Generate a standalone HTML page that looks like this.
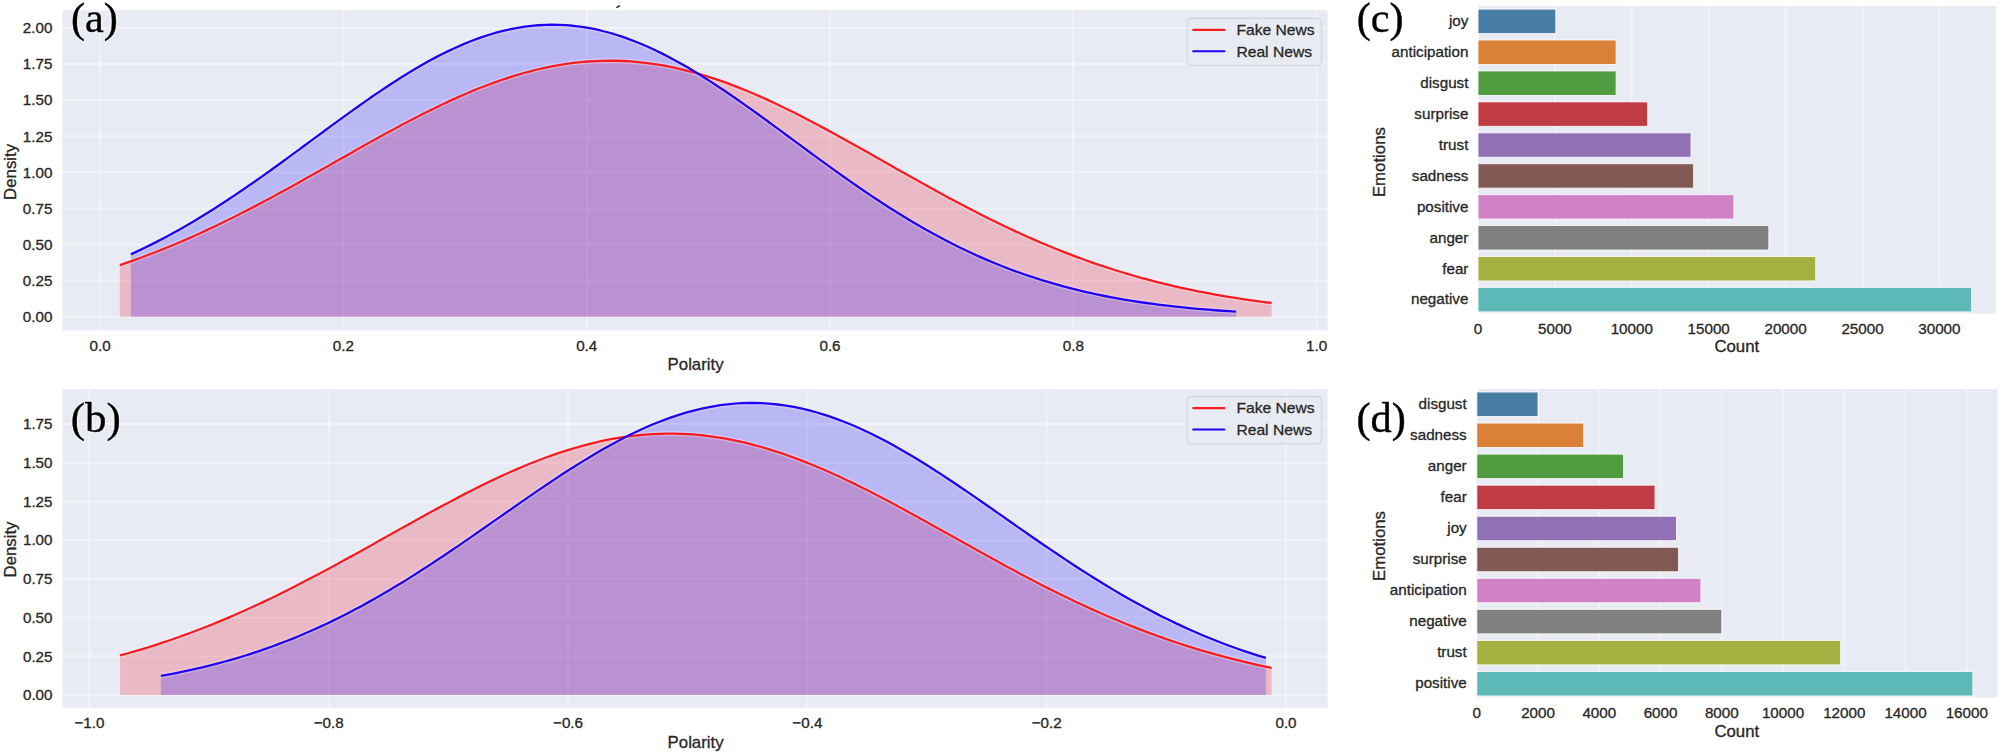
<!DOCTYPE html>
<html lang="en"><head><meta charset="utf-8"><title>Polarity density and emotion counts</title>
<style>html,body{margin:0;padding:0;background:#fff;}body{width:2001px;height:754px;overflow:hidden;}svg{display:block;}svg text{stroke-linejoin:round;}</style>
</head><body>
<svg width="2001" height="754" viewBox="0 0 2001 754" font-family='"Liberation Sans", Arial, Helvetica, sans-serif'>
<rect width="2001" height="754" fill="#fff"/>
<rect x="62.4" y="10.3" width="1265.1999999999998" height="320.0" fill="#e8ebf3"/>
<line x1="100.10" y1="10.3" x2="100.10" y2="330.3" stroke="#fff" stroke-width="2" stroke-opacity="0.42"/>
<text x="100.10" y="350.60" text-anchor="middle" font-size="15.2" fill="#262626" stroke="#262626" stroke-width="0.3">0.0</text>
<line x1="343.40" y1="10.3" x2="343.40" y2="330.3" stroke="#fff" stroke-width="2" stroke-opacity="0.42"/>
<text x="343.40" y="350.60" text-anchor="middle" font-size="15.2" fill="#262626" stroke="#262626" stroke-width="0.3">0.2</text>
<line x1="586.70" y1="10.3" x2="586.70" y2="330.3" stroke="#fff" stroke-width="2" stroke-opacity="0.42"/>
<text x="586.70" y="350.60" text-anchor="middle" font-size="15.2" fill="#262626" stroke="#262626" stroke-width="0.3">0.4</text>
<line x1="830.00" y1="10.3" x2="830.00" y2="330.3" stroke="#fff" stroke-width="2" stroke-opacity="0.42"/>
<text x="830.00" y="350.60" text-anchor="middle" font-size="15.2" fill="#262626" stroke="#262626" stroke-width="0.3">0.6</text>
<line x1="1073.30" y1="10.3" x2="1073.30" y2="330.3" stroke="#fff" stroke-width="2" stroke-opacity="0.42"/>
<text x="1073.30" y="350.60" text-anchor="middle" font-size="15.2" fill="#262626" stroke="#262626" stroke-width="0.3">0.8</text>
<line x1="1316.60" y1="10.3" x2="1316.60" y2="330.3" stroke="#fff" stroke-width="2" stroke-opacity="0.42"/>
<text x="1316.60" y="350.60" text-anchor="middle" font-size="15.2" fill="#262626" stroke="#262626" stroke-width="0.3">1.0</text>
<line x1="62.4" y1="316.70" x2="1327.6" y2="316.70" stroke="#fff" stroke-width="2" stroke-opacity="0.42"/>
<text x="52.40" y="322.00" text-anchor="end" font-size="15.2" fill="#262626" stroke="#262626" stroke-width="0.3">0.00</text>
<line x1="62.4" y1="280.60" x2="1327.6" y2="280.60" stroke="#fff" stroke-width="2" stroke-opacity="0.42"/>
<text x="52.40" y="285.90" text-anchor="end" font-size="15.2" fill="#262626" stroke="#262626" stroke-width="0.3">0.25</text>
<line x1="62.4" y1="244.50" x2="1327.6" y2="244.50" stroke="#fff" stroke-width="2" stroke-opacity="0.42"/>
<text x="52.40" y="249.80" text-anchor="end" font-size="15.2" fill="#262626" stroke="#262626" stroke-width="0.3">0.50</text>
<line x1="62.4" y1="208.40" x2="1327.6" y2="208.40" stroke="#fff" stroke-width="2" stroke-opacity="0.42"/>
<text x="52.40" y="213.70" text-anchor="end" font-size="15.2" fill="#262626" stroke="#262626" stroke-width="0.3">0.75</text>
<line x1="62.4" y1="172.30" x2="1327.6" y2="172.30" stroke="#fff" stroke-width="2" stroke-opacity="0.42"/>
<text x="52.40" y="177.60" text-anchor="end" font-size="15.2" fill="#262626" stroke="#262626" stroke-width="0.3">1.00</text>
<line x1="62.4" y1="136.20" x2="1327.6" y2="136.20" stroke="#fff" stroke-width="2" stroke-opacity="0.42"/>
<text x="52.40" y="141.50" text-anchor="end" font-size="15.2" fill="#262626" stroke="#262626" stroke-width="0.3">1.25</text>
<line x1="62.4" y1="100.10" x2="1327.6" y2="100.10" stroke="#fff" stroke-width="2" stroke-opacity="0.42"/>
<text x="52.40" y="105.40" text-anchor="end" font-size="15.2" fill="#262626" stroke="#262626" stroke-width="0.3">1.50</text>
<line x1="62.4" y1="64.00" x2="1327.6" y2="64.00" stroke="#fff" stroke-width="2" stroke-opacity="0.42"/>
<text x="52.40" y="69.30" text-anchor="end" font-size="15.2" fill="#262626" stroke="#262626" stroke-width="0.3">1.75</text>
<line x1="62.4" y1="27.90" x2="1327.6" y2="27.90" stroke="#fff" stroke-width="2" stroke-opacity="0.42"/>
<text x="52.40" y="33.20" text-anchor="end" font-size="15.2" fill="#262626" stroke="#262626" stroke-width="0.3">2.00</text>
<path d="M119.81,265.13 L127.01,262.66 L134.20,260.12 L141.40,257.49 L148.60,254.79 L155.80,252.00 L163.00,249.14 L170.20,246.20 L177.40,243.19 L184.60,240.10 L191.79,236.93 L198.99,233.69 L206.19,230.38 L213.39,226.99 L220.59,223.54 L227.79,220.03 L234.99,216.45 L242.18,212.81 L249.38,209.11 L256.58,205.36 L263.78,201.55 L270.98,197.70 L278.18,193.81 L285.38,189.87 L292.57,185.90 L299.77,181.90 L306.97,177.87 L314.17,173.82 L321.37,169.76 L328.57,165.68 L335.77,161.60 L342.97,157.52 L350.16,153.44 L357.36,149.37 L364.56,145.32 L371.76,141.30 L378.96,137.30 L386.16,133.34 L393.36,129.42 L400.55,125.55 L407.75,121.74 L414.95,117.99 L422.15,114.30 L429.35,110.69 L436.55,107.16 L443.75,103.72 L450.94,100.36 L458.14,97.11 L465.34,93.97 L472.54,90.93 L479.74,88.01 L486.94,85.22 L494.14,82.55 L501.34,80.01 L508.53,77.62 L515.73,75.36 L522.93,73.26 L530.13,71.30 L537.33,69.50 L544.53,67.86 L551.73,66.38 L558.92,65.07 L566.12,63.92 L573.32,62.94 L580.52,62.14 L587.72,61.51 L594.92,61.06 L602.12,60.78 L609.31,60.68 L616.51,60.76 L623.71,61.01 L630.91,61.44 L638.11,62.04 L645.31,62.82 L652.51,63.77 L659.71,64.90 L666.90,66.19 L674.10,67.64 L681.30,69.26 L688.50,71.04 L695.70,72.98 L702.90,75.06 L710.10,77.30 L717.29,79.67 L724.49,82.19 L731.69,84.84 L738.89,87.62 L746.09,90.52 L753.29,93.54 L760.49,96.67 L767.68,99.91 L774.88,103.25 L782.08,106.68 L789.28,110.20 L796.48,113.80 L803.68,117.47 L810.88,121.22 L818.08,125.02 L825.27,128.88 L832.47,132.80 L839.67,136.75 L846.87,140.74 L854.07,144.76 L861.27,148.81 L868.47,152.87 L875.66,156.95 L882.86,161.03 L890.06,165.12 L897.26,169.19 L904.46,173.26 L911.66,177.31 L918.86,181.34 L926.05,185.35 L933.25,189.32 L940.45,193.26 L947.65,197.17 L954.85,201.02 L962.05,204.83 L969.25,208.59 L976.45,212.30 L983.64,215.95 L990.84,219.54 L998.04,223.06 L1005.24,226.52 L1012.44,229.91 L1019.64,233.23 L1026.84,236.48 L1034.03,239.66 L1041.23,242.76 L1048.43,245.79 L1055.63,248.74 L1062.83,251.61 L1070.03,254.41 L1077.23,257.12 L1084.42,259.76 L1091.62,262.31 L1098.82,264.79 L1106.02,267.19 L1113.22,269.51 L1120.42,271.76 L1127.62,273.92 L1134.82,276.01 L1142.01,278.03 L1149.21,279.97 L1156.41,281.84 L1163.61,283.63 L1170.81,285.35 L1178.01,287.01 L1185.21,288.60 L1192.40,290.12 L1199.60,291.57 L1206.80,292.97 L1214.00,294.30 L1221.20,295.57 L1228.40,296.78 L1235.60,297.94 L1242.79,299.04 L1249.99,300.08 L1257.19,301.08 L1264.39,302.03 L1271.59,302.93 L1271.59,316.70 L119.81,316.70 Z" fill="#eb0a28" fill-opacity="0.22" stroke="none"/>
<path d="M130.88,254.35 L137.78,251.14 L144.69,247.83 L151.60,244.40 L158.51,240.87 L165.41,237.24 L172.32,233.50 L179.23,229.65 L186.14,225.70 L193.04,221.65 L199.95,217.51 L206.86,213.26 L213.77,208.93 L220.67,204.51 L227.58,200.00 L234.49,195.41 L241.40,190.75 L248.30,186.01 L255.21,181.21 L262.12,176.35 L269.03,171.44 L275.93,166.47 L282.84,161.47 L289.75,156.43 L296.66,151.37 L303.56,146.29 L310.47,141.19 L317.38,136.10 L324.29,131.01 L331.19,125.93 L338.10,120.88 L345.01,115.86 L351.92,110.88 L358.82,105.96 L365.73,101.09 L372.64,96.30 L379.55,91.58 L386.45,86.95 L393.36,82.43 L400.27,78.01 L407.18,73.71 L414.08,69.54 L420.99,65.50 L427.90,61.61 L434.80,57.87 L441.71,54.30 L448.62,50.89 L455.53,47.67 L462.43,44.63 L469.34,41.79 L476.25,39.14 L483.16,36.70 L490.06,34.48 L496.97,32.47 L503.88,30.69 L510.79,29.13 L517.69,27.80 L524.60,26.71 L531.51,25.85 L538.42,25.24 L545.32,24.86 L552.23,24.72 L559.14,24.83 L566.05,25.18 L572.95,25.77 L579.86,26.60 L586.77,27.66 L593.68,28.96 L600.58,30.49 L607.49,32.25 L614.40,34.23 L621.31,36.43 L628.21,38.84 L635.12,41.46 L642.03,44.29 L648.94,47.30 L655.84,50.51 L662.75,53.89 L669.66,57.44 L676.57,61.16 L683.47,65.03 L690.38,69.05 L697.29,73.21 L704.19,77.50 L711.10,81.90 L718.01,86.42 L724.92,91.03 L731.82,95.74 L738.73,100.52 L745.64,105.38 L752.55,110.30 L759.45,115.27 L766.36,120.29 L773.27,125.34 L780.18,130.41 L787.08,135.50 L793.99,140.59 L800.90,145.69 L807.81,150.77 L814.71,155.84 L821.62,160.88 L828.53,165.89 L835.44,170.86 L842.34,175.78 L849.25,180.64 L856.16,185.45 L863.07,190.19 L869.97,194.87 L876.88,199.46 L883.79,203.98 L890.70,208.41 L897.60,212.76 L904.51,217.01 L911.42,221.17 L918.33,225.23 L925.23,229.19 L932.14,233.05 L939.05,236.80 L945.96,240.45 L952.86,243.99 L959.77,247.43 L966.68,250.76 L973.59,253.98 L980.49,257.09 L987.40,260.09 L994.31,262.99 L1001.21,265.78 L1008.12,268.47 L1015.03,271.05 L1021.94,273.53 L1028.84,275.91 L1035.75,278.19 L1042.66,280.37 L1049.57,282.46 L1056.47,284.45 L1063.38,286.36 L1070.29,288.17 L1077.20,289.90 L1084.10,291.54 L1091.01,293.11 L1097.92,294.59 L1104.83,296.00 L1111.73,297.33 L1118.64,298.60 L1125.55,299.79 L1132.46,300.92 L1139.36,301.99 L1146.27,302.99 L1153.18,303.94 L1160.09,304.83 L1166.99,305.67 L1173.90,306.46 L1180.81,307.20 L1187.72,307.89 L1194.62,308.54 L1201.53,309.15 L1208.44,309.71 L1215.35,310.24 L1222.25,310.74 L1229.16,311.20 L1236.07,311.63 L1236.07,316.70 L130.88,316.70 Z" fill="#2014fc" fill-opacity="0.235" stroke="none"/>
<path d="M119.81,265.13 L127.01,262.66 L134.20,260.12 L141.40,257.49 L148.60,254.79 L155.80,252.00 L163.00,249.14 L170.20,246.20 L177.40,243.19 L184.60,240.10 L191.79,236.93 L198.99,233.69 L206.19,230.38 L213.39,226.99 L220.59,223.54 L227.79,220.03 L234.99,216.45 L242.18,212.81 L249.38,209.11 L256.58,205.36 L263.78,201.55 L270.98,197.70 L278.18,193.81 L285.38,189.87 L292.57,185.90 L299.77,181.90 L306.97,177.87 L314.17,173.82 L321.37,169.76 L328.57,165.68 L335.77,161.60 L342.97,157.52 L350.16,153.44 L357.36,149.37 L364.56,145.32 L371.76,141.30 L378.96,137.30 L386.16,133.34 L393.36,129.42 L400.55,125.55 L407.75,121.74 L414.95,117.99 L422.15,114.30 L429.35,110.69 L436.55,107.16 L443.75,103.72 L450.94,100.36 L458.14,97.11 L465.34,93.97 L472.54,90.93 L479.74,88.01 L486.94,85.22 L494.14,82.55 L501.34,80.01 L508.53,77.62 L515.73,75.36 L522.93,73.26 L530.13,71.30 L537.33,69.50 L544.53,67.86 L551.73,66.38 L558.92,65.07 L566.12,63.92 L573.32,62.94 L580.52,62.14 L587.72,61.51 L594.92,61.06 L602.12,60.78 L609.31,60.68 L616.51,60.76 L623.71,61.01 L630.91,61.44 L638.11,62.04 L645.31,62.82 L652.51,63.77 L659.71,64.90 L666.90,66.19 L674.10,67.64 L681.30,69.26 L688.50,71.04 L695.70,72.98 L702.90,75.06 L710.10,77.30 L717.29,79.67 L724.49,82.19 L731.69,84.84 L738.89,87.62 L746.09,90.52 L753.29,93.54 L760.49,96.67 L767.68,99.91 L774.88,103.25 L782.08,106.68 L789.28,110.20 L796.48,113.80 L803.68,117.47 L810.88,121.22 L818.08,125.02 L825.27,128.88 L832.47,132.80 L839.67,136.75 L846.87,140.74 L854.07,144.76 L861.27,148.81 L868.47,152.87 L875.66,156.95 L882.86,161.03 L890.06,165.12 L897.26,169.19 L904.46,173.26 L911.66,177.31 L918.86,181.34 L926.05,185.35 L933.25,189.32 L940.45,193.26 L947.65,197.17 L954.85,201.02 L962.05,204.83 L969.25,208.59 L976.45,212.30 L983.64,215.95 L990.84,219.54 L998.04,223.06 L1005.24,226.52 L1012.44,229.91 L1019.64,233.23 L1026.84,236.48 L1034.03,239.66 L1041.23,242.76 L1048.43,245.79 L1055.63,248.74 L1062.83,251.61 L1070.03,254.41 L1077.23,257.12 L1084.42,259.76 L1091.62,262.31 L1098.82,264.79 L1106.02,267.19 L1113.22,269.51 L1120.42,271.76 L1127.62,273.92 L1134.82,276.01 L1142.01,278.03 L1149.21,279.97 L1156.41,281.84 L1163.61,283.63 L1170.81,285.35 L1178.01,287.01 L1185.21,288.60 L1192.40,290.12 L1199.60,291.57 L1206.80,292.97 L1214.00,294.30 L1221.20,295.57 L1228.40,296.78 L1235.60,297.94 L1242.79,299.04 L1249.99,300.08 L1257.19,301.08 L1264.39,302.03 L1271.59,302.93" fill="none" stroke="#fff" stroke-width="4.8" stroke-opacity="0.32" stroke-linejoin="round"/>
<path d="M130.88,254.35 L137.78,251.14 L144.69,247.83 L151.60,244.40 L158.51,240.87 L165.41,237.24 L172.32,233.50 L179.23,229.65 L186.14,225.70 L193.04,221.65 L199.95,217.51 L206.86,213.26 L213.77,208.93 L220.67,204.51 L227.58,200.00 L234.49,195.41 L241.40,190.75 L248.30,186.01 L255.21,181.21 L262.12,176.35 L269.03,171.44 L275.93,166.47 L282.84,161.47 L289.75,156.43 L296.66,151.37 L303.56,146.29 L310.47,141.19 L317.38,136.10 L324.29,131.01 L331.19,125.93 L338.10,120.88 L345.01,115.86 L351.92,110.88 L358.82,105.96 L365.73,101.09 L372.64,96.30 L379.55,91.58 L386.45,86.95 L393.36,82.43 L400.27,78.01 L407.18,73.71 L414.08,69.54 L420.99,65.50 L427.90,61.61 L434.80,57.87 L441.71,54.30 L448.62,50.89 L455.53,47.67 L462.43,44.63 L469.34,41.79 L476.25,39.14 L483.16,36.70 L490.06,34.48 L496.97,32.47 L503.88,30.69 L510.79,29.13 L517.69,27.80 L524.60,26.71 L531.51,25.85 L538.42,25.24 L545.32,24.86 L552.23,24.72 L559.14,24.83 L566.05,25.18 L572.95,25.77 L579.86,26.60 L586.77,27.66 L593.68,28.96 L600.58,30.49 L607.49,32.25 L614.40,34.23 L621.31,36.43 L628.21,38.84 L635.12,41.46 L642.03,44.29 L648.94,47.30 L655.84,50.51 L662.75,53.89 L669.66,57.44 L676.57,61.16 L683.47,65.03 L690.38,69.05 L697.29,73.21 L704.19,77.50 L711.10,81.90 L718.01,86.42 L724.92,91.03 L731.82,95.74 L738.73,100.52 L745.64,105.38 L752.55,110.30 L759.45,115.27 L766.36,120.29 L773.27,125.34 L780.18,130.41 L787.08,135.50 L793.99,140.59 L800.90,145.69 L807.81,150.77 L814.71,155.84 L821.62,160.88 L828.53,165.89 L835.44,170.86 L842.34,175.78 L849.25,180.64 L856.16,185.45 L863.07,190.19 L869.97,194.87 L876.88,199.46 L883.79,203.98 L890.70,208.41 L897.60,212.76 L904.51,217.01 L911.42,221.17 L918.33,225.23 L925.23,229.19 L932.14,233.05 L939.05,236.80 L945.96,240.45 L952.86,243.99 L959.77,247.43 L966.68,250.76 L973.59,253.98 L980.49,257.09 L987.40,260.09 L994.31,262.99 L1001.21,265.78 L1008.12,268.47 L1015.03,271.05 L1021.94,273.53 L1028.84,275.91 L1035.75,278.19 L1042.66,280.37 L1049.57,282.46 L1056.47,284.45 L1063.38,286.36 L1070.29,288.17 L1077.20,289.90 L1084.10,291.54 L1091.01,293.11 L1097.92,294.59 L1104.83,296.00 L1111.73,297.33 L1118.64,298.60 L1125.55,299.79 L1132.46,300.92 L1139.36,301.99 L1146.27,302.99 L1153.18,303.94 L1160.09,304.83 L1166.99,305.67 L1173.90,306.46 L1180.81,307.20 L1187.72,307.89 L1194.62,308.54 L1201.53,309.15 L1208.44,309.71 L1215.35,310.24 L1222.25,310.74 L1229.16,311.20 L1236.07,311.63" fill="none" stroke="#fff" stroke-width="4.8" stroke-opacity="0.32" stroke-linejoin="round"/>
<path d="M119.81,265.13 L127.01,262.66 L134.20,260.12 L141.40,257.49 L148.60,254.79 L155.80,252.00 L163.00,249.14 L170.20,246.20 L177.40,243.19 L184.60,240.10 L191.79,236.93 L198.99,233.69 L206.19,230.38 L213.39,226.99 L220.59,223.54 L227.79,220.03 L234.99,216.45 L242.18,212.81 L249.38,209.11 L256.58,205.36 L263.78,201.55 L270.98,197.70 L278.18,193.81 L285.38,189.87 L292.57,185.90 L299.77,181.90 L306.97,177.87 L314.17,173.82 L321.37,169.76 L328.57,165.68 L335.77,161.60 L342.97,157.52 L350.16,153.44 L357.36,149.37 L364.56,145.32 L371.76,141.30 L378.96,137.30 L386.16,133.34 L393.36,129.42 L400.55,125.55 L407.75,121.74 L414.95,117.99 L422.15,114.30 L429.35,110.69 L436.55,107.16 L443.75,103.72 L450.94,100.36 L458.14,97.11 L465.34,93.97 L472.54,90.93 L479.74,88.01 L486.94,85.22 L494.14,82.55 L501.34,80.01 L508.53,77.62 L515.73,75.36 L522.93,73.26 L530.13,71.30 L537.33,69.50 L544.53,67.86 L551.73,66.38 L558.92,65.07 L566.12,63.92 L573.32,62.94 L580.52,62.14 L587.72,61.51 L594.92,61.06 L602.12,60.78 L609.31,60.68 L616.51,60.76 L623.71,61.01 L630.91,61.44 L638.11,62.04 L645.31,62.82 L652.51,63.77 L659.71,64.90 L666.90,66.19 L674.10,67.64 L681.30,69.26 L688.50,71.04 L695.70,72.98 L702.90,75.06 L710.10,77.30 L717.29,79.67 L724.49,82.19 L731.69,84.84 L738.89,87.62 L746.09,90.52 L753.29,93.54 L760.49,96.67 L767.68,99.91 L774.88,103.25 L782.08,106.68 L789.28,110.20 L796.48,113.80 L803.68,117.47 L810.88,121.22 L818.08,125.02 L825.27,128.88 L832.47,132.80 L839.67,136.75 L846.87,140.74 L854.07,144.76 L861.27,148.81 L868.47,152.87 L875.66,156.95 L882.86,161.03 L890.06,165.12 L897.26,169.19 L904.46,173.26 L911.66,177.31 L918.86,181.34 L926.05,185.35 L933.25,189.32 L940.45,193.26 L947.65,197.17 L954.85,201.02 L962.05,204.83 L969.25,208.59 L976.45,212.30 L983.64,215.95 L990.84,219.54 L998.04,223.06 L1005.24,226.52 L1012.44,229.91 L1019.64,233.23 L1026.84,236.48 L1034.03,239.66 L1041.23,242.76 L1048.43,245.79 L1055.63,248.74 L1062.83,251.61 L1070.03,254.41 L1077.23,257.12 L1084.42,259.76 L1091.62,262.31 L1098.82,264.79 L1106.02,267.19 L1113.22,269.51 L1120.42,271.76 L1127.62,273.92 L1134.82,276.01 L1142.01,278.03 L1149.21,279.97 L1156.41,281.84 L1163.61,283.63 L1170.81,285.35 L1178.01,287.01 L1185.21,288.60 L1192.40,290.12 L1199.60,291.57 L1206.80,292.97 L1214.00,294.30 L1221.20,295.57 L1228.40,296.78 L1235.60,297.94 L1242.79,299.04 L1249.99,300.08 L1257.19,301.08 L1264.39,302.03 L1271.59,302.93" fill="none" stroke="#fb1c22" stroke-width="2.3" stroke-linejoin="round"/>
<path d="M130.88,254.35 L137.78,251.14 L144.69,247.83 L151.60,244.40 L158.51,240.87 L165.41,237.24 L172.32,233.50 L179.23,229.65 L186.14,225.70 L193.04,221.65 L199.95,217.51 L206.86,213.26 L213.77,208.93 L220.67,204.51 L227.58,200.00 L234.49,195.41 L241.40,190.75 L248.30,186.01 L255.21,181.21 L262.12,176.35 L269.03,171.44 L275.93,166.47 L282.84,161.47 L289.75,156.43 L296.66,151.37 L303.56,146.29 L310.47,141.19 L317.38,136.10 L324.29,131.01 L331.19,125.93 L338.10,120.88 L345.01,115.86 L351.92,110.88 L358.82,105.96 L365.73,101.09 L372.64,96.30 L379.55,91.58 L386.45,86.95 L393.36,82.43 L400.27,78.01 L407.18,73.71 L414.08,69.54 L420.99,65.50 L427.90,61.61 L434.80,57.87 L441.71,54.30 L448.62,50.89 L455.53,47.67 L462.43,44.63 L469.34,41.79 L476.25,39.14 L483.16,36.70 L490.06,34.48 L496.97,32.47 L503.88,30.69 L510.79,29.13 L517.69,27.80 L524.60,26.71 L531.51,25.85 L538.42,25.24 L545.32,24.86 L552.23,24.72 L559.14,24.83 L566.05,25.18 L572.95,25.77 L579.86,26.60 L586.77,27.66 L593.68,28.96 L600.58,30.49 L607.49,32.25 L614.40,34.23 L621.31,36.43 L628.21,38.84 L635.12,41.46 L642.03,44.29 L648.94,47.30 L655.84,50.51 L662.75,53.89 L669.66,57.44 L676.57,61.16 L683.47,65.03 L690.38,69.05 L697.29,73.21 L704.19,77.50 L711.10,81.90 L718.01,86.42 L724.92,91.03 L731.82,95.74 L738.73,100.52 L745.64,105.38 L752.55,110.30 L759.45,115.27 L766.36,120.29 L773.27,125.34 L780.18,130.41 L787.08,135.50 L793.99,140.59 L800.90,145.69 L807.81,150.77 L814.71,155.84 L821.62,160.88 L828.53,165.89 L835.44,170.86 L842.34,175.78 L849.25,180.64 L856.16,185.45 L863.07,190.19 L869.97,194.87 L876.88,199.46 L883.79,203.98 L890.70,208.41 L897.60,212.76 L904.51,217.01 L911.42,221.17 L918.33,225.23 L925.23,229.19 L932.14,233.05 L939.05,236.80 L945.96,240.45 L952.86,243.99 L959.77,247.43 L966.68,250.76 L973.59,253.98 L980.49,257.09 L987.40,260.09 L994.31,262.99 L1001.21,265.78 L1008.12,268.47 L1015.03,271.05 L1021.94,273.53 L1028.84,275.91 L1035.75,278.19 L1042.66,280.37 L1049.57,282.46 L1056.47,284.45 L1063.38,286.36 L1070.29,288.17 L1077.20,289.90 L1084.10,291.54 L1091.01,293.11 L1097.92,294.59 L1104.83,296.00 L1111.73,297.33 L1118.64,298.60 L1125.55,299.79 L1132.46,300.92 L1139.36,301.99 L1146.27,302.99 L1153.18,303.94 L1160.09,304.83 L1166.99,305.67 L1173.90,306.46 L1180.81,307.20 L1187.72,307.89 L1194.62,308.54 L1201.53,309.15 L1208.44,309.71 L1215.35,310.24 L1222.25,310.74 L1229.16,311.20 L1236.07,311.63" fill="none" stroke="#2200f8" stroke-width="2.3" stroke-linejoin="round"/>
<rect x="1187.2" y="18.4" width="134.29999999999995" height="47.1" rx="4" ry="4" fill="#e8ebf3" fill-opacity="0.8" stroke="#d3d3d9" stroke-width="1.1"/>
<line x1="1193.2" y1="29.9" x2="1224.4" y2="29.9" stroke="#fb1c22" stroke-width="2.1" stroke-linecap="round"/>
<line x1="1193.2" y1="51.3" x2="1224.4" y2="51.3" stroke="#2200f8" stroke-width="2.1" stroke-linecap="round"/>
<text transform="translate(1236.4,35.10) scale(1,0.94)" font-size="15.65" fill="#262626" stroke="#262626" stroke-width="0.3">Fake News</text>
<text transform="translate(1236.4,56.50) scale(1,0.94)" font-size="15.65" fill="#262626" stroke="#262626" stroke-width="0.3">Real News</text>
<text transform="translate(15.6,171.9) rotate(-90)" text-anchor="middle" font-size="16.8" fill="#262626" stroke="#262626" stroke-width="0.3">Density</text>
<text x="695.6" y="370" text-anchor="middle" font-size="16.8" fill="#262626" stroke="#262626" stroke-width="0.3">Polarity</text>
<text x="71.0" y="31.9" font-family='"Liberation Serif", "Times New Roman", serif' font-size="42.3" fill="#000" stroke="#000" stroke-width="0.4" style="filter:drop-shadow(0 0 0.8px rgba(255,255,255,0.95)) drop-shadow(0 0 0.6px rgba(255,255,255,0.8))">(a)</text>
<rect x="62.5" y="389.1" width="1265.1" height="318.79999999999995" fill="#e8ebf3"/>
<line x1="89.40" y1="389.1" x2="89.40" y2="707.9" stroke="#fff" stroke-width="2" stroke-opacity="0.42"/>
<text x="89.40" y="727.60" text-anchor="middle" font-size="15.2" fill="#262626" stroke="#262626" stroke-width="0.3">−1.0</text>
<line x1="328.72" y1="389.1" x2="328.72" y2="707.9" stroke="#fff" stroke-width="2" stroke-opacity="0.42"/>
<text x="328.72" y="727.60" text-anchor="middle" font-size="15.2" fill="#262626" stroke="#262626" stroke-width="0.3">−0.8</text>
<line x1="568.04" y1="389.1" x2="568.04" y2="707.9" stroke="#fff" stroke-width="2" stroke-opacity="0.42"/>
<text x="568.04" y="727.60" text-anchor="middle" font-size="15.2" fill="#262626" stroke="#262626" stroke-width="0.3">−0.6</text>
<line x1="807.36" y1="389.1" x2="807.36" y2="707.9" stroke="#fff" stroke-width="2" stroke-opacity="0.42"/>
<text x="807.36" y="727.60" text-anchor="middle" font-size="15.2" fill="#262626" stroke="#262626" stroke-width="0.3">−0.4</text>
<line x1="1046.68" y1="389.1" x2="1046.68" y2="707.9" stroke="#fff" stroke-width="2" stroke-opacity="0.42"/>
<text x="1046.68" y="727.60" text-anchor="middle" font-size="15.2" fill="#262626" stroke="#262626" stroke-width="0.3">−0.2</text>
<line x1="1286.00" y1="389.1" x2="1286.00" y2="707.9" stroke="#fff" stroke-width="2" stroke-opacity="0.42"/>
<text x="1286.00" y="727.60" text-anchor="middle" font-size="15.2" fill="#262626" stroke="#262626" stroke-width="0.3">0.0</text>
<line x1="62.5" y1="695.00" x2="1327.6" y2="695.00" stroke="#fff" stroke-width="2" stroke-opacity="0.42"/>
<text x="52.50" y="700.30" text-anchor="end" font-size="15.2" fill="#262626" stroke="#262626" stroke-width="0.3">0.00</text>
<line x1="62.5" y1="656.29" x2="1327.6" y2="656.29" stroke="#fff" stroke-width="2" stroke-opacity="0.42"/>
<text x="52.50" y="661.59" text-anchor="end" font-size="15.2" fill="#262626" stroke="#262626" stroke-width="0.3">0.25</text>
<line x1="62.5" y1="617.58" x2="1327.6" y2="617.58" stroke="#fff" stroke-width="2" stroke-opacity="0.42"/>
<text x="52.50" y="622.88" text-anchor="end" font-size="15.2" fill="#262626" stroke="#262626" stroke-width="0.3">0.50</text>
<line x1="62.5" y1="578.86" x2="1327.6" y2="578.86" stroke="#fff" stroke-width="2" stroke-opacity="0.42"/>
<text x="52.50" y="584.16" text-anchor="end" font-size="15.2" fill="#262626" stroke="#262626" stroke-width="0.3">0.75</text>
<line x1="62.5" y1="540.15" x2="1327.6" y2="540.15" stroke="#fff" stroke-width="2" stroke-opacity="0.42"/>
<text x="52.50" y="545.45" text-anchor="end" font-size="15.2" fill="#262626" stroke="#262626" stroke-width="0.3">1.00</text>
<line x1="62.5" y1="501.44" x2="1327.6" y2="501.44" stroke="#fff" stroke-width="2" stroke-opacity="0.42"/>
<text x="52.50" y="506.74" text-anchor="end" font-size="15.2" fill="#262626" stroke="#262626" stroke-width="0.3">1.25</text>
<line x1="62.5" y1="462.73" x2="1327.6" y2="462.73" stroke="#fff" stroke-width="2" stroke-opacity="0.42"/>
<text x="52.50" y="468.03" text-anchor="end" font-size="15.2" fill="#262626" stroke="#262626" stroke-width="0.3">1.50</text>
<line x1="62.5" y1="424.01" x2="1327.6" y2="424.01" stroke="#fff" stroke-width="2" stroke-opacity="0.42"/>
<text x="52.50" y="429.31" text-anchor="end" font-size="15.2" fill="#262626" stroke="#262626" stroke-width="0.3">1.75</text>
<path d="M120.03,655.48 L127.23,653.49 L134.43,651.43 L141.62,649.29 L148.82,647.08 L156.02,644.80 L163.21,642.44 L170.41,640.01 L177.61,637.50 L184.80,634.91 L192.00,632.25 L199.20,629.52 L206.39,626.71 L213.59,623.82 L220.79,620.87 L227.98,617.84 L235.18,614.73 L242.38,611.56 L249.58,608.31 L256.77,605.00 L263.97,601.63 L271.17,598.19 L278.36,594.68 L285.56,591.12 L292.76,587.50 L299.95,583.83 L307.15,580.10 L314.35,576.33 L321.54,572.51 L328.74,568.66 L335.94,564.76 L343.13,560.83 L350.33,556.88 L357.53,552.90 L364.72,548.89 L371.92,544.88 L379.12,540.85 L386.31,536.82 L393.51,532.78 L400.71,528.75 L407.91,524.73 L415.10,520.73 L422.30,516.75 L429.50,512.79 L436.69,508.87 L443.89,504.99 L451.09,501.15 L458.28,497.36 L465.48,493.63 L472.68,489.96 L479.87,486.36 L487.07,482.83 L494.27,479.39 L501.46,476.03 L508.66,472.76 L515.86,469.59 L523.05,466.52 L530.25,463.56 L537.45,460.71 L544.64,457.98 L551.84,455.37 L559.04,452.89 L566.23,450.55 L573.43,448.34 L580.63,446.28 L587.83,444.35 L595.02,442.58 L602.22,440.96 L609.42,439.49 L616.61,438.19 L623.81,437.04 L631.01,436.05 L638.20,435.23 L645.40,434.58 L652.60,434.09 L659.79,433.78 L666.99,433.63 L674.19,433.65 L681.38,433.83 L688.58,434.19 L695.78,434.72 L702.97,435.41 L710.17,436.27 L717.37,437.29 L724.56,438.48 L731.76,439.82 L738.96,441.32 L746.15,442.98 L753.35,444.79 L760.55,446.74 L767.75,448.84 L774.94,451.08 L782.14,453.46 L789.34,455.97 L796.53,458.60 L803.73,461.36 L810.93,464.23 L818.12,467.22 L825.32,470.31 L832.52,473.51 L839.71,476.80 L846.91,480.18 L854.11,483.65 L861.30,487.19 L868.50,490.81 L875.70,494.49 L882.89,498.24 L890.09,502.04 L897.29,505.89 L904.48,509.78 L911.68,513.71 L918.88,517.67 L926.07,521.66 L933.27,525.67 L940.47,529.69 L947.67,533.72 L954.86,537.75 L962.06,541.79 L969.26,545.81 L976.45,549.83 L983.65,553.82 L990.85,557.80 L998.04,561.75 L1005.24,565.67 L1012.44,569.56 L1019.63,573.41 L1026.83,577.21 L1034.03,580.97 L1041.22,584.69 L1048.42,588.35 L1055.62,591.95 L1062.81,595.50 L1070.01,598.99 L1077.21,602.42 L1084.40,605.78 L1091.60,609.08 L1098.80,612.30 L1105.99,615.46 L1113.19,618.55 L1120.39,621.56 L1127.59,624.50 L1134.78,627.37 L1141.98,630.16 L1149.18,632.88 L1156.37,635.52 L1163.57,638.09 L1170.77,640.58 L1177.96,643.00 L1185.16,645.34 L1192.36,647.60 L1199.55,649.79 L1206.75,651.91 L1213.95,653.96 L1221.14,655.93 L1228.34,657.84 L1235.54,659.67 L1242.73,661.43 L1249.93,663.13 L1257.13,664.76 L1264.32,666.33 L1271.52,667.83 L1271.52,695.00 L120.03,695.00 Z" fill="#eb0a28" fill-opacity="0.22" stroke="none"/>
<path d="M160.96,675.83 L167.86,674.58 L174.77,673.26 L181.67,671.88 L188.58,670.42 L195.49,668.89 L202.39,667.29 L209.30,665.61 L216.20,663.85 L223.11,662.01 L230.02,660.09 L236.92,658.08 L243.83,655.99 L250.73,653.81 L257.64,651.54 L264.54,649.18 L271.45,646.73 L278.36,644.18 L285.26,641.54 L292.17,638.81 L299.07,635.98 L305.98,633.05 L312.89,630.02 L319.79,626.90 L326.70,623.68 L333.60,620.37 L340.51,616.96 L347.42,613.45 L354.32,609.85 L361.23,606.16 L368.13,602.37 L375.04,598.50 L381.94,594.53 L388.85,590.49 L395.76,586.36 L402.66,582.15 L409.57,577.87 L416.47,573.51 L423.38,569.09 L430.29,564.60 L437.19,560.06 L444.10,555.45 L451.00,550.80 L457.91,546.11 L464.82,541.37 L471.72,536.61 L478.63,531.82 L485.53,527.00 L492.44,522.18 L499.34,517.35 L506.25,512.51 L513.16,507.69 L520.06,502.88 L526.97,498.10 L533.87,493.35 L540.78,488.63 L547.69,483.96 L554.59,479.35 L561.50,474.80 L568.40,470.32 L575.31,465.93 L582.22,461.62 L589.12,457.40 L596.03,453.29 L602.93,449.29 L609.84,445.41 L616.74,441.66 L623.65,438.04 L630.56,434.57 L637.46,431.24 L644.37,428.07 L651.27,425.07 L658.18,422.23 L665.09,419.57 L671.99,417.09 L678.90,414.79 L685.80,412.69 L692.71,410.78 L699.62,409.08 L706.52,407.57 L713.43,406.28 L720.33,405.19 L727.24,404.32 L734.14,403.66 L741.05,403.21 L747.96,402.99 L754.86,402.98 L761.77,403.18 L768.67,403.61 L775.58,404.25 L782.49,405.10 L789.39,406.17 L796.30,407.45 L803.20,408.93 L810.11,410.62 L817.02,412.51 L823.92,414.60 L830.83,416.87 L837.73,419.34 L844.64,421.98 L851.54,424.81 L858.45,427.80 L865.36,430.95 L872.26,434.26 L879.17,437.72 L886.07,441.33 L892.98,445.07 L899.89,448.94 L906.79,452.93 L913.70,457.03 L920.60,461.23 L927.51,465.54 L934.41,469.93 L941.32,474.40 L948.23,478.94 L955.13,483.55 L962.04,488.21 L968.94,492.92 L975.85,497.67 L982.76,502.45 L989.66,507.26 L996.57,512.08 L1003.47,516.91 L1010.38,521.75 L1017.29,526.57 L1024.19,531.39 L1031.10,536.18 L1038.00,540.95 L1044.91,545.69 L1051.81,550.39 L1058.72,555.04 L1065.63,559.65 L1072.53,564.20 L1079.44,568.69 L1086.34,573.12 L1093.25,577.48 L1100.16,581.77 L1107.06,585.99 L1113.97,590.12 L1120.87,594.18 L1127.78,598.15 L1134.69,602.03 L1141.59,605.82 L1148.50,609.52 L1155.40,613.13 L1162.31,616.65 L1169.21,620.07 L1176.12,623.39 L1183.03,626.62 L1189.93,629.75 L1196.84,632.78 L1203.74,635.72 L1210.65,638.56 L1217.56,641.30 L1224.46,643.95 L1231.37,646.51 L1238.27,648.97 L1245.18,651.34 L1252.09,653.61 L1258.99,655.80 L1265.90,657.90 L1265.90,695.00 L160.96,695.00 Z" fill="#2014fc" fill-opacity="0.235" stroke="none"/>
<path d="M120.03,655.48 L127.23,653.49 L134.43,651.43 L141.62,649.29 L148.82,647.08 L156.02,644.80 L163.21,642.44 L170.41,640.01 L177.61,637.50 L184.80,634.91 L192.00,632.25 L199.20,629.52 L206.39,626.71 L213.59,623.82 L220.79,620.87 L227.98,617.84 L235.18,614.73 L242.38,611.56 L249.58,608.31 L256.77,605.00 L263.97,601.63 L271.17,598.19 L278.36,594.68 L285.56,591.12 L292.76,587.50 L299.95,583.83 L307.15,580.10 L314.35,576.33 L321.54,572.51 L328.74,568.66 L335.94,564.76 L343.13,560.83 L350.33,556.88 L357.53,552.90 L364.72,548.89 L371.92,544.88 L379.12,540.85 L386.31,536.82 L393.51,532.78 L400.71,528.75 L407.91,524.73 L415.10,520.73 L422.30,516.75 L429.50,512.79 L436.69,508.87 L443.89,504.99 L451.09,501.15 L458.28,497.36 L465.48,493.63 L472.68,489.96 L479.87,486.36 L487.07,482.83 L494.27,479.39 L501.46,476.03 L508.66,472.76 L515.86,469.59 L523.05,466.52 L530.25,463.56 L537.45,460.71 L544.64,457.98 L551.84,455.37 L559.04,452.89 L566.23,450.55 L573.43,448.34 L580.63,446.28 L587.83,444.35 L595.02,442.58 L602.22,440.96 L609.42,439.49 L616.61,438.19 L623.81,437.04 L631.01,436.05 L638.20,435.23 L645.40,434.58 L652.60,434.09 L659.79,433.78 L666.99,433.63 L674.19,433.65 L681.38,433.83 L688.58,434.19 L695.78,434.72 L702.97,435.41 L710.17,436.27 L717.37,437.29 L724.56,438.48 L731.76,439.82 L738.96,441.32 L746.15,442.98 L753.35,444.79 L760.55,446.74 L767.75,448.84 L774.94,451.08 L782.14,453.46 L789.34,455.97 L796.53,458.60 L803.73,461.36 L810.93,464.23 L818.12,467.22 L825.32,470.31 L832.52,473.51 L839.71,476.80 L846.91,480.18 L854.11,483.65 L861.30,487.19 L868.50,490.81 L875.70,494.49 L882.89,498.24 L890.09,502.04 L897.29,505.89 L904.48,509.78 L911.68,513.71 L918.88,517.67 L926.07,521.66 L933.27,525.67 L940.47,529.69 L947.67,533.72 L954.86,537.75 L962.06,541.79 L969.26,545.81 L976.45,549.83 L983.65,553.82 L990.85,557.80 L998.04,561.75 L1005.24,565.67 L1012.44,569.56 L1019.63,573.41 L1026.83,577.21 L1034.03,580.97 L1041.22,584.69 L1048.42,588.35 L1055.62,591.95 L1062.81,595.50 L1070.01,598.99 L1077.21,602.42 L1084.40,605.78 L1091.60,609.08 L1098.80,612.30 L1105.99,615.46 L1113.19,618.55 L1120.39,621.56 L1127.59,624.50 L1134.78,627.37 L1141.98,630.16 L1149.18,632.88 L1156.37,635.52 L1163.57,638.09 L1170.77,640.58 L1177.96,643.00 L1185.16,645.34 L1192.36,647.60 L1199.55,649.79 L1206.75,651.91 L1213.95,653.96 L1221.14,655.93 L1228.34,657.84 L1235.54,659.67 L1242.73,661.43 L1249.93,663.13 L1257.13,664.76 L1264.32,666.33 L1271.52,667.83" fill="none" stroke="#fff" stroke-width="4.8" stroke-opacity="0.32" stroke-linejoin="round"/>
<path d="M160.96,675.83 L167.86,674.58 L174.77,673.26 L181.67,671.88 L188.58,670.42 L195.49,668.89 L202.39,667.29 L209.30,665.61 L216.20,663.85 L223.11,662.01 L230.02,660.09 L236.92,658.08 L243.83,655.99 L250.73,653.81 L257.64,651.54 L264.54,649.18 L271.45,646.73 L278.36,644.18 L285.26,641.54 L292.17,638.81 L299.07,635.98 L305.98,633.05 L312.89,630.02 L319.79,626.90 L326.70,623.68 L333.60,620.37 L340.51,616.96 L347.42,613.45 L354.32,609.85 L361.23,606.16 L368.13,602.37 L375.04,598.50 L381.94,594.53 L388.85,590.49 L395.76,586.36 L402.66,582.15 L409.57,577.87 L416.47,573.51 L423.38,569.09 L430.29,564.60 L437.19,560.06 L444.10,555.45 L451.00,550.80 L457.91,546.11 L464.82,541.37 L471.72,536.61 L478.63,531.82 L485.53,527.00 L492.44,522.18 L499.34,517.35 L506.25,512.51 L513.16,507.69 L520.06,502.88 L526.97,498.10 L533.87,493.35 L540.78,488.63 L547.69,483.96 L554.59,479.35 L561.50,474.80 L568.40,470.32 L575.31,465.93 L582.22,461.62 L589.12,457.40 L596.03,453.29 L602.93,449.29 L609.84,445.41 L616.74,441.66 L623.65,438.04 L630.56,434.57 L637.46,431.24 L644.37,428.07 L651.27,425.07 L658.18,422.23 L665.09,419.57 L671.99,417.09 L678.90,414.79 L685.80,412.69 L692.71,410.78 L699.62,409.08 L706.52,407.57 L713.43,406.28 L720.33,405.19 L727.24,404.32 L734.14,403.66 L741.05,403.21 L747.96,402.99 L754.86,402.98 L761.77,403.18 L768.67,403.61 L775.58,404.25 L782.49,405.10 L789.39,406.17 L796.30,407.45 L803.20,408.93 L810.11,410.62 L817.02,412.51 L823.92,414.60 L830.83,416.87 L837.73,419.34 L844.64,421.98 L851.54,424.81 L858.45,427.80 L865.36,430.95 L872.26,434.26 L879.17,437.72 L886.07,441.33 L892.98,445.07 L899.89,448.94 L906.79,452.93 L913.70,457.03 L920.60,461.23 L927.51,465.54 L934.41,469.93 L941.32,474.40 L948.23,478.94 L955.13,483.55 L962.04,488.21 L968.94,492.92 L975.85,497.67 L982.76,502.45 L989.66,507.26 L996.57,512.08 L1003.47,516.91 L1010.38,521.75 L1017.29,526.57 L1024.19,531.39 L1031.10,536.18 L1038.00,540.95 L1044.91,545.69 L1051.81,550.39 L1058.72,555.04 L1065.63,559.65 L1072.53,564.20 L1079.44,568.69 L1086.34,573.12 L1093.25,577.48 L1100.16,581.77 L1107.06,585.99 L1113.97,590.12 L1120.87,594.18 L1127.78,598.15 L1134.69,602.03 L1141.59,605.82 L1148.50,609.52 L1155.40,613.13 L1162.31,616.65 L1169.21,620.07 L1176.12,623.39 L1183.03,626.62 L1189.93,629.75 L1196.84,632.78 L1203.74,635.72 L1210.65,638.56 L1217.56,641.30 L1224.46,643.95 L1231.37,646.51 L1238.27,648.97 L1245.18,651.34 L1252.09,653.61 L1258.99,655.80 L1265.90,657.90" fill="none" stroke="#fff" stroke-width="4.8" stroke-opacity="0.32" stroke-linejoin="round"/>
<path d="M120.03,655.48 L127.23,653.49 L134.43,651.43 L141.62,649.29 L148.82,647.08 L156.02,644.80 L163.21,642.44 L170.41,640.01 L177.61,637.50 L184.80,634.91 L192.00,632.25 L199.20,629.52 L206.39,626.71 L213.59,623.82 L220.79,620.87 L227.98,617.84 L235.18,614.73 L242.38,611.56 L249.58,608.31 L256.77,605.00 L263.97,601.63 L271.17,598.19 L278.36,594.68 L285.56,591.12 L292.76,587.50 L299.95,583.83 L307.15,580.10 L314.35,576.33 L321.54,572.51 L328.74,568.66 L335.94,564.76 L343.13,560.83 L350.33,556.88 L357.53,552.90 L364.72,548.89 L371.92,544.88 L379.12,540.85 L386.31,536.82 L393.51,532.78 L400.71,528.75 L407.91,524.73 L415.10,520.73 L422.30,516.75 L429.50,512.79 L436.69,508.87 L443.89,504.99 L451.09,501.15 L458.28,497.36 L465.48,493.63 L472.68,489.96 L479.87,486.36 L487.07,482.83 L494.27,479.39 L501.46,476.03 L508.66,472.76 L515.86,469.59 L523.05,466.52 L530.25,463.56 L537.45,460.71 L544.64,457.98 L551.84,455.37 L559.04,452.89 L566.23,450.55 L573.43,448.34 L580.63,446.28 L587.83,444.35 L595.02,442.58 L602.22,440.96 L609.42,439.49 L616.61,438.19 L623.81,437.04 L631.01,436.05 L638.20,435.23 L645.40,434.58 L652.60,434.09 L659.79,433.78 L666.99,433.63 L674.19,433.65 L681.38,433.83 L688.58,434.19 L695.78,434.72 L702.97,435.41 L710.17,436.27 L717.37,437.29 L724.56,438.48 L731.76,439.82 L738.96,441.32 L746.15,442.98 L753.35,444.79 L760.55,446.74 L767.75,448.84 L774.94,451.08 L782.14,453.46 L789.34,455.97 L796.53,458.60 L803.73,461.36 L810.93,464.23 L818.12,467.22 L825.32,470.31 L832.52,473.51 L839.71,476.80 L846.91,480.18 L854.11,483.65 L861.30,487.19 L868.50,490.81 L875.70,494.49 L882.89,498.24 L890.09,502.04 L897.29,505.89 L904.48,509.78 L911.68,513.71 L918.88,517.67 L926.07,521.66 L933.27,525.67 L940.47,529.69 L947.67,533.72 L954.86,537.75 L962.06,541.79 L969.26,545.81 L976.45,549.83 L983.65,553.82 L990.85,557.80 L998.04,561.75 L1005.24,565.67 L1012.44,569.56 L1019.63,573.41 L1026.83,577.21 L1034.03,580.97 L1041.22,584.69 L1048.42,588.35 L1055.62,591.95 L1062.81,595.50 L1070.01,598.99 L1077.21,602.42 L1084.40,605.78 L1091.60,609.08 L1098.80,612.30 L1105.99,615.46 L1113.19,618.55 L1120.39,621.56 L1127.59,624.50 L1134.78,627.37 L1141.98,630.16 L1149.18,632.88 L1156.37,635.52 L1163.57,638.09 L1170.77,640.58 L1177.96,643.00 L1185.16,645.34 L1192.36,647.60 L1199.55,649.79 L1206.75,651.91 L1213.95,653.96 L1221.14,655.93 L1228.34,657.84 L1235.54,659.67 L1242.73,661.43 L1249.93,663.13 L1257.13,664.76 L1264.32,666.33 L1271.52,667.83" fill="none" stroke="#fb1c22" stroke-width="2.3" stroke-linejoin="round"/>
<path d="M160.96,675.83 L167.86,674.58 L174.77,673.26 L181.67,671.88 L188.58,670.42 L195.49,668.89 L202.39,667.29 L209.30,665.61 L216.20,663.85 L223.11,662.01 L230.02,660.09 L236.92,658.08 L243.83,655.99 L250.73,653.81 L257.64,651.54 L264.54,649.18 L271.45,646.73 L278.36,644.18 L285.26,641.54 L292.17,638.81 L299.07,635.98 L305.98,633.05 L312.89,630.02 L319.79,626.90 L326.70,623.68 L333.60,620.37 L340.51,616.96 L347.42,613.45 L354.32,609.85 L361.23,606.16 L368.13,602.37 L375.04,598.50 L381.94,594.53 L388.85,590.49 L395.76,586.36 L402.66,582.15 L409.57,577.87 L416.47,573.51 L423.38,569.09 L430.29,564.60 L437.19,560.06 L444.10,555.45 L451.00,550.80 L457.91,546.11 L464.82,541.37 L471.72,536.61 L478.63,531.82 L485.53,527.00 L492.44,522.18 L499.34,517.35 L506.25,512.51 L513.16,507.69 L520.06,502.88 L526.97,498.10 L533.87,493.35 L540.78,488.63 L547.69,483.96 L554.59,479.35 L561.50,474.80 L568.40,470.32 L575.31,465.93 L582.22,461.62 L589.12,457.40 L596.03,453.29 L602.93,449.29 L609.84,445.41 L616.74,441.66 L623.65,438.04 L630.56,434.57 L637.46,431.24 L644.37,428.07 L651.27,425.07 L658.18,422.23 L665.09,419.57 L671.99,417.09 L678.90,414.79 L685.80,412.69 L692.71,410.78 L699.62,409.08 L706.52,407.57 L713.43,406.28 L720.33,405.19 L727.24,404.32 L734.14,403.66 L741.05,403.21 L747.96,402.99 L754.86,402.98 L761.77,403.18 L768.67,403.61 L775.58,404.25 L782.49,405.10 L789.39,406.17 L796.30,407.45 L803.20,408.93 L810.11,410.62 L817.02,412.51 L823.92,414.60 L830.83,416.87 L837.73,419.34 L844.64,421.98 L851.54,424.81 L858.45,427.80 L865.36,430.95 L872.26,434.26 L879.17,437.72 L886.07,441.33 L892.98,445.07 L899.89,448.94 L906.79,452.93 L913.70,457.03 L920.60,461.23 L927.51,465.54 L934.41,469.93 L941.32,474.40 L948.23,478.94 L955.13,483.55 L962.04,488.21 L968.94,492.92 L975.85,497.67 L982.76,502.45 L989.66,507.26 L996.57,512.08 L1003.47,516.91 L1010.38,521.75 L1017.29,526.57 L1024.19,531.39 L1031.10,536.18 L1038.00,540.95 L1044.91,545.69 L1051.81,550.39 L1058.72,555.04 L1065.63,559.65 L1072.53,564.20 L1079.44,568.69 L1086.34,573.12 L1093.25,577.48 L1100.16,581.77 L1107.06,585.99 L1113.97,590.12 L1120.87,594.18 L1127.78,598.15 L1134.69,602.03 L1141.59,605.82 L1148.50,609.52 L1155.40,613.13 L1162.31,616.65 L1169.21,620.07 L1176.12,623.39 L1183.03,626.62 L1189.93,629.75 L1196.84,632.78 L1203.74,635.72 L1210.65,638.56 L1217.56,641.30 L1224.46,643.95 L1231.37,646.51 L1238.27,648.97 L1245.18,651.34 L1252.09,653.61 L1258.99,655.80 L1265.90,657.90" fill="none" stroke="#2200f8" stroke-width="2.3" stroke-linejoin="round"/>
<rect x="1187.2" y="396.6" width="134.29999999999995" height="47.1" rx="4" ry="4" fill="#e8ebf3" fill-opacity="0.8" stroke="#d3d3d9" stroke-width="1.1"/>
<line x1="1193.2" y1="408.1" x2="1224.4" y2="408.1" stroke="#fb1c22" stroke-width="2.1" stroke-linecap="round"/>
<line x1="1193.2" y1="429.5" x2="1224.4" y2="429.5" stroke="#2200f8" stroke-width="2.1" stroke-linecap="round"/>
<text transform="translate(1236.4,413.30) scale(1,0.94)" font-size="15.65" fill="#262626" stroke="#262626" stroke-width="0.3">Fake News</text>
<text transform="translate(1236.4,434.70) scale(1,0.94)" font-size="15.65" fill="#262626" stroke="#262626" stroke-width="0.3">Real News</text>
<text transform="translate(15.6,549.5) rotate(-90)" text-anchor="middle" font-size="16.8" fill="#262626" stroke="#262626" stroke-width="0.3">Density</text>
<text x="695.6" y="747.5" text-anchor="middle" font-size="16.8" fill="#262626" stroke="#262626" stroke-width="0.3">Polarity</text>
<text x="70.7" y="432.3" font-family='"Liberation Serif", "Times New Roman", serif' font-size="43.0" fill="#000" stroke="#000" stroke-width="0.4" style="filter:drop-shadow(0 0 0.8px rgba(255,255,255,0.95)) drop-shadow(0 0 0.6px rgba(255,255,255,0.8))">(b)</text>
<rect x="1478.4" y="6.0" width="517.5999999999999" height="307.5" fill="#e8ebf3"/>
<line x1="1478.00" y1="6.0" x2="1478.00" y2="313.5" stroke="#fff" stroke-width="2" stroke-opacity="0.42"/>
<text x="1478.00" y="334.30" text-anchor="middle" font-size="15.2" fill="#262626" stroke="#262626" stroke-width="0.3">0</text>
<line x1="1554.90" y1="6.0" x2="1554.90" y2="313.5" stroke="#fff" stroke-width="2" stroke-opacity="0.42"/>
<text x="1554.90" y="334.30" text-anchor="middle" font-size="15.2" fill="#262626" stroke="#262626" stroke-width="0.3">5000</text>
<line x1="1631.80" y1="6.0" x2="1631.80" y2="313.5" stroke="#fff" stroke-width="2" stroke-opacity="0.42"/>
<text x="1631.80" y="334.30" text-anchor="middle" font-size="15.2" fill="#262626" stroke="#262626" stroke-width="0.3">10000</text>
<line x1="1708.70" y1="6.0" x2="1708.70" y2="313.5" stroke="#fff" stroke-width="2" stroke-opacity="0.42"/>
<text x="1708.70" y="334.30" text-anchor="middle" font-size="15.2" fill="#262626" stroke="#262626" stroke-width="0.3">15000</text>
<line x1="1785.60" y1="6.0" x2="1785.60" y2="313.5" stroke="#fff" stroke-width="2" stroke-opacity="0.42"/>
<text x="1785.60" y="334.30" text-anchor="middle" font-size="15.2" fill="#262626" stroke="#262626" stroke-width="0.3">20000</text>
<line x1="1862.50" y1="6.0" x2="1862.50" y2="313.5" stroke="#fff" stroke-width="2" stroke-opacity="0.42"/>
<text x="1862.50" y="334.30" text-anchor="middle" font-size="15.2" fill="#262626" stroke="#262626" stroke-width="0.3">25000</text>
<line x1="1939.40" y1="6.0" x2="1939.40" y2="313.5" stroke="#fff" stroke-width="2" stroke-opacity="0.42"/>
<text x="1939.40" y="334.30" text-anchor="middle" font-size="15.2" fill="#262626" stroke="#262626" stroke-width="0.3">30000</text>
<rect x="1478.00" y="9.10" width="77.82" height="24.50" fill="#487da5" stroke="#fff" stroke-opacity="0.85" stroke-width="1"/>
<text x="1468.4" y="26.15" text-anchor="end" font-size="15.2" fill="#262626" stroke="#262626" stroke-width="0.3">joy</text>
<rect x="1478.00" y="40.02" width="138.11" height="24.50" fill="#da8137" stroke="#fff" stroke-opacity="0.85" stroke-width="1"/>
<text x="1468.4" y="57.07" text-anchor="end" font-size="15.2" fill="#262626" stroke="#262626" stroke-width="0.3">anticipation</text>
<rect x="1478.00" y="70.94" width="138.11" height="24.50" fill="#4f9d40" stroke="#fff" stroke-opacity="0.85" stroke-width="1"/>
<text x="1468.4" y="87.99" text-anchor="end" font-size="15.2" fill="#262626" stroke="#262626" stroke-width="0.3">disgust</text>
<rect x="1478.00" y="101.86" width="169.64" height="24.50" fill="#c03c43" stroke="#fff" stroke-opacity="0.85" stroke-width="1"/>
<text x="1468.4" y="118.91" text-anchor="end" font-size="15.2" fill="#262626" stroke="#262626" stroke-width="0.3">surprise</text>
<rect x="1478.00" y="132.78" width="213.01" height="24.50" fill="#9071b6" stroke="#fff" stroke-opacity="0.85" stroke-width="1"/>
<text x="1468.4" y="149.83" text-anchor="end" font-size="15.2" fill="#262626" stroke="#262626" stroke-width="0.3">trust</text>
<rect x="1478.00" y="163.70" width="215.63" height="24.50" fill="#835a53" stroke="#fff" stroke-opacity="0.85" stroke-width="1"/>
<text x="1468.4" y="180.75" text-anchor="end" font-size="15.2" fill="#262626" stroke="#262626" stroke-width="0.3">sadness</text>
<rect x="1478.00" y="194.62" width="255.92" height="24.50" fill="#cf82c6" stroke="#fff" stroke-opacity="0.85" stroke-width="1"/>
<text x="1468.4" y="211.67" text-anchor="end" font-size="15.2" fill="#262626" stroke="#262626" stroke-width="0.3">positive</text>
<rect x="1478.00" y="225.54" width="290.84" height="24.50" fill="#808080" stroke="#fff" stroke-opacity="0.85" stroke-width="1"/>
<text x="1468.4" y="242.59" text-anchor="end" font-size="15.2" fill="#262626" stroke="#262626" stroke-width="0.3">anger</text>
<rect x="1478.00" y="256.46" width="337.74" height="24.50" fill="#a4b040" stroke="#fff" stroke-opacity="0.85" stroke-width="1"/>
<text x="1468.4" y="273.51" text-anchor="end" font-size="15.2" fill="#262626" stroke="#262626" stroke-width="0.3">fear</text>
<rect x="1478.00" y="287.38" width="493.70" height="24.50" fill="#5db8b8" stroke="#fff" stroke-opacity="0.85" stroke-width="1"/>
<text x="1468.4" y="304.43" text-anchor="end" font-size="15.2" fill="#262626" stroke="#262626" stroke-width="0.3">negative</text>
<text transform="translate(1385.3,162.1) rotate(-90)" text-anchor="middle" font-size="16.8" fill="#262626" stroke="#262626" stroke-width="0.3">Emotions</text>
<text x="1736.8" y="352.2" text-anchor="middle" font-size="16.8" fill="#262626" stroke="#262626" stroke-width="0.3">Count</text>
<text x="1356.7" y="32.2" font-family='"Liberation Serif", "Times New Roman", serif' font-size="42.2" fill="#000" stroke="#000" stroke-width="0.4" style="filter:drop-shadow(0 0 0.8px rgba(255,255,255,0.95)) drop-shadow(0 0 0.6px rgba(255,255,255,0.8))">(c)</text>
<rect x="1477.0" y="389.0" width="520.5999999999999" height="308.5" fill="#e8ebf3"/>
<line x1="1476.80" y1="389.0" x2="1476.80" y2="697.5" stroke="#fff" stroke-width="2" stroke-opacity="0.42"/>
<text x="1476.80" y="718.30" text-anchor="middle" font-size="15.2" fill="#262626" stroke="#262626" stroke-width="0.3">0</text>
<line x1="1538.05" y1="389.0" x2="1538.05" y2="697.5" stroke="#fff" stroke-width="2" stroke-opacity="0.42"/>
<text x="1538.05" y="718.30" text-anchor="middle" font-size="15.2" fill="#262626" stroke="#262626" stroke-width="0.3">2000</text>
<line x1="1599.30" y1="389.0" x2="1599.30" y2="697.5" stroke="#fff" stroke-width="2" stroke-opacity="0.42"/>
<text x="1599.30" y="718.30" text-anchor="middle" font-size="15.2" fill="#262626" stroke="#262626" stroke-width="0.3">4000</text>
<line x1="1660.55" y1="389.0" x2="1660.55" y2="697.5" stroke="#fff" stroke-width="2" stroke-opacity="0.42"/>
<text x="1660.55" y="718.30" text-anchor="middle" font-size="15.2" fill="#262626" stroke="#262626" stroke-width="0.3">6000</text>
<line x1="1721.80" y1="389.0" x2="1721.80" y2="697.5" stroke="#fff" stroke-width="2" stroke-opacity="0.42"/>
<text x="1721.80" y="718.30" text-anchor="middle" font-size="15.2" fill="#262626" stroke="#262626" stroke-width="0.3">8000</text>
<line x1="1783.05" y1="389.0" x2="1783.05" y2="697.5" stroke="#fff" stroke-width="2" stroke-opacity="0.42"/>
<text x="1783.05" y="718.30" text-anchor="middle" font-size="15.2" fill="#262626" stroke="#262626" stroke-width="0.3">10000</text>
<line x1="1844.30" y1="389.0" x2="1844.30" y2="697.5" stroke="#fff" stroke-width="2" stroke-opacity="0.42"/>
<text x="1844.30" y="718.30" text-anchor="middle" font-size="15.2" fill="#262626" stroke="#262626" stroke-width="0.3">12000</text>
<line x1="1905.55" y1="389.0" x2="1905.55" y2="697.5" stroke="#fff" stroke-width="2" stroke-opacity="0.42"/>
<text x="1905.55" y="718.30" text-anchor="middle" font-size="15.2" fill="#262626" stroke="#262626" stroke-width="0.3">14000</text>
<line x1="1966.80" y1="389.0" x2="1966.80" y2="697.5" stroke="#fff" stroke-width="2" stroke-opacity="0.42"/>
<text x="1966.80" y="718.30" text-anchor="middle" font-size="15.2" fill="#262626" stroke="#262626" stroke-width="0.3">16000</text>
<rect x="1476.80" y="392.00" width="61.25" height="24.50" fill="#487da5" stroke="#fff" stroke-opacity="0.85" stroke-width="1"/>
<text x="1466.7" y="408.85" text-anchor="end" font-size="15.2" fill="#262626" stroke="#262626" stroke-width="0.3">disgust</text>
<rect x="1476.80" y="423.05" width="106.88" height="24.50" fill="#da8137" stroke="#fff" stroke-opacity="0.85" stroke-width="1"/>
<text x="1466.7" y="439.90" text-anchor="end" font-size="15.2" fill="#262626" stroke="#262626" stroke-width="0.3">sadness</text>
<rect x="1476.80" y="454.10" width="146.69" height="24.50" fill="#4f9d40" stroke="#fff" stroke-opacity="0.85" stroke-width="1"/>
<text x="1466.7" y="470.95" text-anchor="end" font-size="15.2" fill="#262626" stroke="#262626" stroke-width="0.3">anger</text>
<rect x="1476.80" y="485.15" width="178.24" height="24.50" fill="#c03c43" stroke="#fff" stroke-opacity="0.85" stroke-width="1"/>
<text x="1466.7" y="502.00" text-anchor="end" font-size="15.2" fill="#262626" stroke="#262626" stroke-width="0.3">fear</text>
<rect x="1476.80" y="516.20" width="199.67" height="24.50" fill="#9071b6" stroke="#fff" stroke-opacity="0.85" stroke-width="1"/>
<text x="1466.7" y="533.05" text-anchor="end" font-size="15.2" fill="#262626" stroke="#262626" stroke-width="0.3">joy</text>
<rect x="1476.80" y="547.25" width="201.82" height="24.50" fill="#835a53" stroke="#fff" stroke-opacity="0.85" stroke-width="1"/>
<text x="1466.7" y="564.10" text-anchor="end" font-size="15.2" fill="#262626" stroke="#262626" stroke-width="0.3">surprise</text>
<rect x="1476.80" y="578.30" width="224.17" height="24.50" fill="#cf82c6" stroke="#fff" stroke-opacity="0.85" stroke-width="1"/>
<text x="1466.7" y="595.15" text-anchor="end" font-size="15.2" fill="#262626" stroke="#262626" stroke-width="0.3">anticipation</text>
<rect x="1476.80" y="609.35" width="245.00" height="24.50" fill="#808080" stroke="#fff" stroke-opacity="0.85" stroke-width="1"/>
<text x="1466.7" y="626.20" text-anchor="end" font-size="15.2" fill="#262626" stroke="#262626" stroke-width="0.3">negative</text>
<rect x="1476.80" y="640.40" width="363.82" height="24.50" fill="#a4b040" stroke="#fff" stroke-opacity="0.85" stroke-width="1"/>
<text x="1466.7" y="657.25" text-anchor="end" font-size="15.2" fill="#262626" stroke="#262626" stroke-width="0.3">trust</text>
<rect x="1476.80" y="671.45" width="496.12" height="24.50" fill="#5db8b8" stroke="#fff" stroke-opacity="0.85" stroke-width="1"/>
<text x="1466.7" y="688.30" text-anchor="end" font-size="15.2" fill="#262626" stroke="#262626" stroke-width="0.3">positive</text>
<text transform="translate(1385.3,546) rotate(-90)" text-anchor="middle" font-size="16.8" fill="#262626" stroke="#262626" stroke-width="0.3">Emotions</text>
<text x="1736.8" y="736.6" text-anchor="middle" font-size="16.8" fill="#262626" stroke="#262626" stroke-width="0.3">Count</text>
<text x="1356.4" y="432.0" font-family='"Liberation Serif", "Times New Roman", serif' font-size="42.4" fill="#000" stroke="#000" stroke-width="0.4" style="filter:drop-shadow(0 0 0.8px rgba(255,255,255,0.95)) drop-shadow(0 0 0.6px rgba(255,255,255,0.8))">(d)</text>
<line x1="617.0" y1="7.4" x2="619.5" y2="5.9" stroke="#2a2a2a" stroke-width="1.6" stroke-linecap="round"/>
</svg>
</body></html>
